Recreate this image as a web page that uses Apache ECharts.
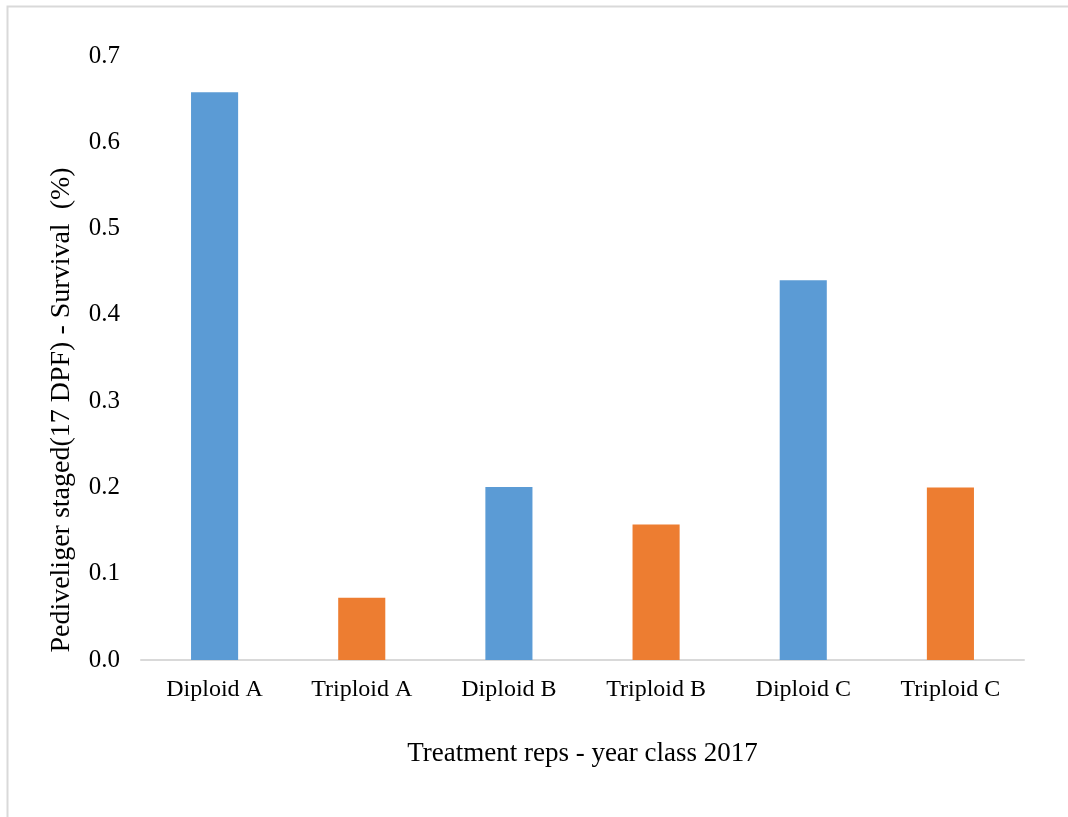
<!DOCTYPE html>
<html>
<head>
<meta charset="utf-8">
<script src="https://cdn.jsdelivr.net/npm/echarts@6/dist/echarts.min.js"></script>
<style>
html,body{margin:0;padding:0;background:#fff;}
#chart{width:1068px;height:817px;}
</style>
</head>
<body>
<div id="chart"></div>
<script>
const categories = ['Diploid A', 'Triploid A', 'Diploid B', 'Triploid B', 'Diploid C', 'Triploid C'];
const survival = [0.658, 0.072, 0.2005, 0.157, 0.44, 0.2];
const yTicks = ['0.0', '0.1', '0.2', '0.3', '0.4', '0.5', '0.6', '0.7'];
const xTitle = 'Treatment reps - year class 2017';
const yTitle = 'Pediveliger staged(17 DPF) - Survival  (%)';

const FONT = '"Liberation Serif", "Times New Roman", serif';
const chart = echarts.init(document.getElementById('chart'));
chart.setOption({
  animation: false,
  backgroundColor: '#fff',
  grid: {left: 141, right: 44, top: 56, bottom: 157, containLabel: false},
  graphic: [
    {type: 'rect', shape: {x: 7.5, y: 6.5, width: 1200, height: 1000}, style: {fill: 'none', stroke: '#d9d9d9', lineWidth: 2}, z: -1},
    {type: 'text', x: 62, y: 410, rotation: Math.PI / 2,
      style: {text: yTitle, font: '28px ' + FONT, fill: '#000', align: 'center', verticalAlign: 'middle'}}
  ],
  xAxis: {
    type: 'category',
    data: categories,
    name: xTitle,
    nameLocation: 'middle',
    nameGap: 80,
    nameTextStyle: {fontFamily: FONT, fontSize: 27, color: '#000', verticalAlign: 'top'},
    axisLine: {lineStyle: {color: '#d9d9d9', width: 2}},
    axisTick: {show: false},
    axisLabel: {fontFamily: FONT, fontSize: 24, color: '#000', margin: 18}
  },
  yAxis: {
    type: 'value',
    min: 0, max: 0.7, interval: 0.1,
    axisLine: {show: false},
    axisTick: {show: false},
    splitLine: {show: false},
    axisLabel: {fontFamily: FONT, fontSize: 25, color: '#000', margin: 21,
      formatter: (v) => yTicks[Math.round(v * 10)]}
  },
  series: [{
    type: 'bar',
    data: survival,
    barCategoryGap: '68%',
    itemStyle: {color: (p) => p.name.indexOf('Diploid') === 0 ? '#5b9bd5' : '#ed7d31'}
  }]
});
</script>
</body>
</html>
